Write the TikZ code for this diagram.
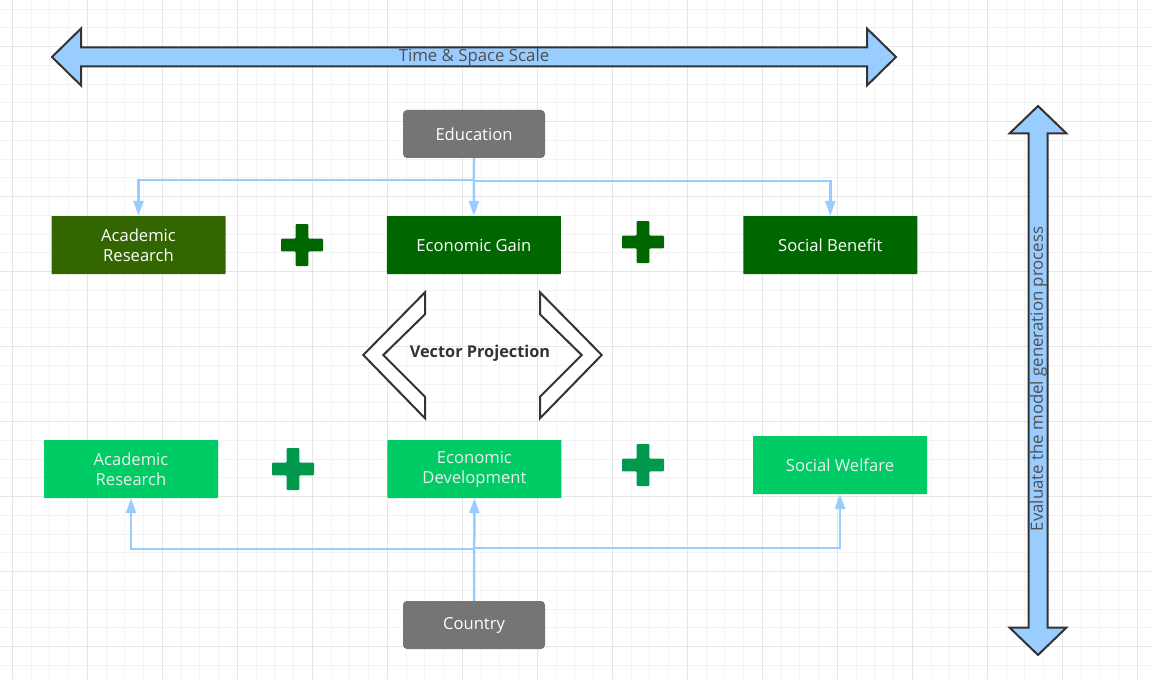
\documentclass[tikz,border=0pt]{standalone}
\usepackage{fontspec}
\setmainfont{Open Sans}
\usetikzlibrary{positioning,arrows.meta}
\definecolor{gridlo}{HTML}{F3F3F3}
\definecolor{gridhi}{HTML}{E6E6E6}
\definecolor{linkblue}{HTML}{99CCFF}
\definecolor{boxgrey}{HTML}{757575}
\definecolor{olivec}{HTML}{336600}
\definecolor{topgreen}{HTML}{006600}
\definecolor{lowgreen}{HTML}{00CC66}
\definecolor{plusgreen}{HTML}{00994D}
\definecolor{lowtext}{HTML}{EDEDED}
\definecolor{inkline}{HTML}{333333}
\definecolor{scaletext}{HTML}{505050}
\newcommand{\boxfont}{\fontsize{16.6}{20}\selectfont}
\newcommand{\scalefont}{\fontsize{16.8}{20}\selectfont}
\tikzset{
  gridminor/.style={draw=gridlo,line width=1pt},
  gridmajor/.style={draw=gridhi,line width=1pt},
  greybox/.style={rectangle,rounded corners=4pt,fill=boxgrey,text=white,
   minimum width=142pt,minimum height=48pt,inner sep=0pt,font=\boxfont},
  topbox/.style={rectangle,rounded corners=0.6pt,fill=#1,text=white,align=center,
   minimum width=174pt,minimum height=58pt,inner sep=0pt,font=\boxfont},
  lowbox/.style={rectangle,rounded corners=0.6pt,fill=lowgreen,text=lowtext,align=center,
   minimum width=174pt,minimum height=58pt,inner sep=0pt,font=\boxfont},
  link/.style={draw=linkblue,line width=2.5pt,
   -{Triangle[width=10pt,length=15pt,fill=linkblue]}},
  bigarrow/.style={draw=inkline,line width=2pt,fill=linkblue,line join=miter},
  chevron/.style={draw=inkline,line width=2pt,fill=white,line join=miter},
  pics/plussign/.style={code={
    \fill[#1,rounded corners=1pt] (-21,-6.3) -- (-6.3,-6.3) -- (-6.3,-21) -- (6.3,-21)
      -- (6.3,-6.3) -- (21,-6.3) -- (21,6.3) -- (6.3,6.3) -- (6.3,21) -- (-6.3,21)
      -- (-6.3,6.3) -- (-21,6.3) -- cycle;}}
}
\begin{document}
\begin{tikzpicture}[x=1pt,y=-1pt]
  \useasboundingbox[fill=white] (0,0) rectangle (1153,679);
  % background grid
  \foreach \i in {0,...,62} \draw[gridminor] ({-6.45+18.75*\i},0) -- ({-6.45+18.75*\i},679);
  \foreach \i in {0,...,36} \draw[gridminor] (0,{9.2+18.75*\i}) -- (1153,{9.2+18.75*\i});
  \foreach \i in {0,...,15} \draw[gridmajor] ({12.3+75*\i},0) -- ({12.3+75*\i},679);
  \foreach \i in {0,...,8} \draw[gridmajor] (0,{46.7+75*\i}) -- (1153,{46.7+75*\i});

  % scale arrows
  \draw[bigarrow] (52,57) -- (81,28.5) -- (81,47.5) -- (867,47.5) -- (867,28.5) -- (896,57)
    -- (867,85.5) -- (867,66.5) -- (81,66.5) -- (81,85.5) -- cycle;
  \node[text=scaletext,font=\scalefont] (scale) at (474,57.5) {Time \& Space Scale};
  \draw[bigarrow] (1038,106) -- (1066.5,133.5) -- (1047.5,133.5) -- (1047.5,627.5) -- (1066.5,627.5)
    -- (1038,655) -- (1009.5,627.5) -- (1028.5,627.5) -- (1028.5,133.5) -- (1009.5,133.5) -- cycle;
  \node[text=scaletext,font=\scalefont,rotate=90] (eval) at (1038.5,379)
    {Evaluate the model generation process};

  % upper row
  \node[greybox] (edu) at (474,134) {Education};
  \node[topbox=olivec] (ar1) at (138.5,245) {Academic\\Research};
  \node[topbox=topgreen,right=161pt of ar1] (gain) {Economic Gain};
  \node[topbox=topgreen,right=182pt of gain] (soc) {Social Benefit};
  \pic at (302,245) {plussign=topgreen};
  \pic at (643,242) {plussign=topgreen};

  \path (edu.south) edge[link] (gain.north);
  \draw[link] (edu.south) -- ++(0,22) -| (ar1.north);
  \draw[link] (edu.south) -- ++(0,23) -| (soc.north);

  % projection
  \draw[chevron] (425,292.3) -- (363.3,355) -- (425,418.3) -- (425,396.7) -- (383.3,355) -- (425,314.3) -- cycle;
  \draw[chevron] (540,292.3) -- (601.7,355) -- (540,418.3) -- (540,396.7) -- (581.7,355) -- (540,314.3) -- cycle;
  \node[text=inkline,font=\bfseries\fontsize{16.3}{20}\selectfont] (proj) at (480,353) {Vector Projection};

  % lower row
  \node[lowbox] (ar2) at (131,469) {Academic\\Research};
  \node[lowbox,right=169pt of ar2] (dev) {Economic\\Development};
  \node[lowbox] (welf) at (840,465) {Social Welfare};
  \node[greybox] (cty) at (474,625) {Country};
  \pic at (293,469) {plussign=plusgreen};
  \pic at (643,465) {plussign=plusgreen};

  \path (cty.north) edge[link] (dev.south);
  \draw[link] (cty.north) -- ++(0,-52) -| (ar2.south);
  \draw[link] (cty.north) -- ++(0,-53) -| (welf.south);
\end{tikzpicture}
\end{document}
